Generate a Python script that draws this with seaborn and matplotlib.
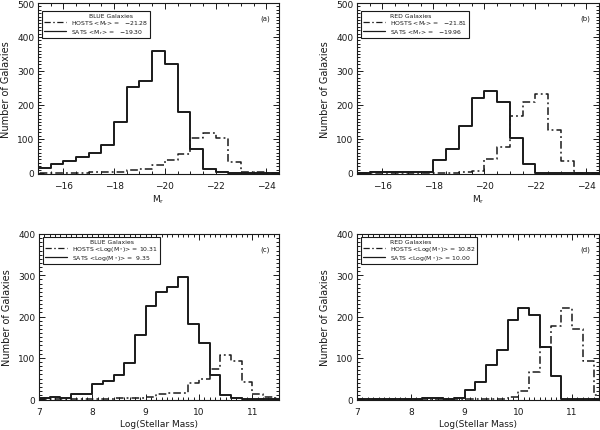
import numpy as np
import pandas as pd
import matplotlib
matplotlib.use("Agg")
import matplotlib.pyplot as plt
import seaborn as sns
from matplotlib.lines import Line2D
from matplotlib.ticker import MultipleLocator

# ---------------- data ----------------
# absolute magnitude bins (centres), width 0.5
mag_centers = [-15.25, -15.75, -16.25, -16.75, -17.25, -17.75, -18.25, -18.75,
               -19.25, -19.75, -20.25, -20.75, -21.25, -21.75, -22.25, -22.75,
               -23.25, -23.75, -24.25]
blue_sats_mag = [14, 25, 35, 46, 60, 82, 150, 252, 272, 360, 320, 180, 70, 11, 4, 1, 0, 0, 0]
blue_hosts_mag = [0, 0, 1, 1, 2, 3, 4, 10, 12, 24, 37, 57, 102, 117, 102, 32, 3, 2, 1]
red_sats_mag = [1, 3, 2, 2, 2, 4, 37, 72, 137, 222, 241, 210, 102, 27, 0, 0, 0, 0, 0]
red_hosts_mag = [0, 0, 0, 0, 0, 0, 0, 0, 2, 7, 42, 77, 167, 210, 232, 127, 34, 0, 0]

# log stellar mass bins (centres), width 0.2
mass_centers = [7.1, 7.3, 7.5, 7.7, 7.9, 8.1, 8.3, 8.5, 8.7, 8.9, 9.1, 9.3, 9.5,
                9.7, 9.9, 10.1, 10.3, 10.5, 10.7, 10.9, 11.1, 11.3, 11.5]
blue_sats_mass = [2, 6, 2, 12, 12, 37, 45, 59, 88, 155, 225, 260, 272, 295, 182, 136, 58, 9, 4, 1, 0, 0, 0]
blue_hosts_mass = [0, 0, 0, 0, 0, 1, 1, 2, 2, 3, 5, 13, 14, 16, 38, 50, 72, 106, 92, 41, 13, 6, 2]
red_sats_mass = [0, 0, 0, 0, 0, 1, 4, 2, 1, 4, 23, 41, 83, 119, 192, 222, 204, 126, 56, 1, 0, 0, 0]
red_hosts_mass = [0, 0, 0, 0, 0, 0, 0, 0, 0, 0, 0, 0, 0, 0, 5, 19, 67, 126, 178, 222, 169, 93, 10]

mag_ticks = [-16, -18, -20, -22, -24]
mass_ticks = [7, 8, 9, 10, 11]

panels = [
    dict(letter="(a)", title="         BLUE Galaxies", x=mag_centers, hosts=blue_hosts_mag, sats=blue_sats_mag,
         host_lab="HOSTS <M$_\\mathrm{r}$> =   \u221221.28", sat_lab="SATS <M$_\\mathrm{r}$> =   \u221219.30"),
    dict(letter="(b)", title="RED Galaxies", x=mag_centers, hosts=red_hosts_mag, sats=red_sats_mag,
         host_lab="HOSTS <M$_\\mathrm{r}$> =   \u221221.81", sat_lab="SATS <M$_\\mathrm{r}$> =   \u221219.96"),
    dict(letter="(c)", title="         BLUE Galaxies", x=mass_centers, hosts=blue_hosts_mass, sats=blue_sats_mass,
         host_lab="HOSTS <Log(M$_*$)> = 10.31", sat_lab="SATS <Log(M$_*$)> =  9.35"),
    dict(letter="(d)", title="RED Galaxies", x=mass_centers, hosts=red_hosts_mass, sats=red_sats_mass,
         host_lab="HOSTS <Log(M$_*$)> = 10.82", sat_lab="SATS <Log(M$_*$)> = 10.00"),
]

# ---------------- style ----------------
sns.set_style("ticks")
plt.rcParams["font.family"] = ["DejaVu Sans"]
plt.rcParams["mathtext.fontset"] = "dejavusans"
INK = "#1a1a1a"
DASHDOT = (0, (5, 2, 1.2, 2))
FS = 6.5

W, H = 600, 431
fig = plt.figure(figsize=(W / 100, H / 100), dpi=100)

# axes boxes in pixels: left, top, right, bottom
boxes = [(38, 4, 279, 175), (357, 4, 599, 175), (39, 235, 279, 401), (357, 235, 599, 401)]

for i, (p, (l, t, r, b)) in enumerate(zip(panels, boxes)):
    ax = fig.add_axes([l / W, 1 - b / H, (r - l) / W, (b - t) / H])
    top_row = i < 2
    if top_row:
        edges = np.linspace(-24.5, -15.0, 20).tolist()
    else:
        edges = np.linspace(7.0, 11.6, 24).tolist()

    df = pd.DataFrame({"x": p["x"], "hosts": p["hosts"], "sats": p["sats"]}).astype(float)
    sns.histplot(data=df, x="x", weights="hosts", bins=edges, element="step", fill=False,
                 color=INK, linewidth=1.1, linestyle=DASHDOT, ax=ax)
    sns.histplot(data=df, x="x", weights="sats", bins=edges, element="step", fill=False,
                 color=INK, linewidth=1.4, ax=ax)

    if top_row:
        ax.set_xlim(-15, -24.5)
        ax.set_ylim(-3, 500)
        ax.set_xticks(mag_ticks)
        ax.xaxis.set_minor_locator(MultipleLocator(0.5))
        ax.set_yticks([0, 100, 200, 300, 400, 500])
        ax.set_xlabel("M$_\\mathrm{r}$", fontsize=FS, color=INK, labelpad=2)
    else:
        ax.set_xlim(7, 11.5)
        ax.set_ylim(-2, 400)
        ax.set_xticks(mass_ticks)
        ax.xaxis.set_minor_locator(MultipleLocator(0.1))
        ax.set_yticks([0, 100, 200, 300, 400])
        ax.set_xlabel("Log(Stellar Mass)", fontsize=FS, color=INK, labelpad=2.5)
    ax.yaxis.set_minor_locator(MultipleLocator(10))
    ax.set_ylabel("Number of Galaxies", fontsize=7.0, color=INK, labelpad=4.5)

    ax.tick_params(which="both", direction="in", top=True, right=True, colors=INK,
                   labelsize=FS, width=0.7)
    ax.tick_params(which="major", length=4.5)
    ax.tick_params(which="minor", length=2.0)
    ax.tick_params(axis="x", which="major", pad=5)
    ax.tick_params(axis="y", which="major", pad=2.5)
    for s in ax.spines.values():
        s.set_visible(True)
        s.set_linewidth(0.8)
        s.set_color(INK)

    handles = [Line2D([], [], color="none"),
               Line2D([], [], color=INK, linewidth=0.9, linestyle=DASHDOT),
               Line2D([], [], color=INK, linewidth=0.9)]
    labels = [p["title"], p["host_lab"], p["sat_lab"]]
    yoff = 8 if top_row else 3
    leg = ax.legend(handles, labels, loc="upper left",
                    bbox_to_anchor=(4 / (r - l), 1 - yoff / (b - t)), borderaxespad=0,
                    fontsize=4.4, handlelength=3.6, handletextpad=0.8, labelspacing=0.0,
                    borderpad=0.3, frameon=True, fancybox=False, framealpha=1)
    leg.get_frame().set_edgecolor(INK)
    leg.get_frame().set_linewidth(0.8)
    for txt in leg.get_texts():
        txt.set_color(INK)

    ax.text(1 - 14 / (r - l), 1 - 15 / (b - t), p["letter"], transform=ax.transAxes,
            ha="center", va="center", fontsize=5, color=INK)

fig.savefig("out.png", dpi=100)
